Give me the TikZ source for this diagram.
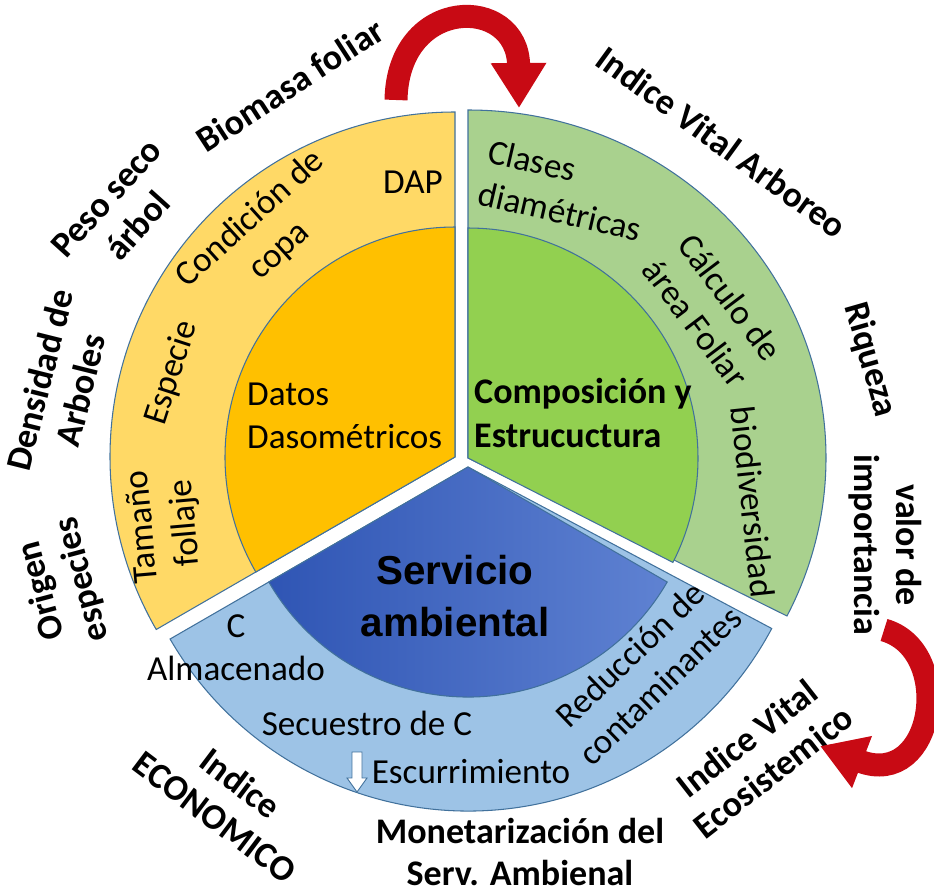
\documentclass[tikz,border=0pt]{standalone}
\usepackage{fontspec}
\setmainfont{Carlito}
\newfontfamily\servfont{Liberation Sans}
\usetikzlibrary{arrows.meta}
\definecolor{myyellow}{RGB}{255,217,102}
\definecolor{myorange}{RGB}{255,192,0}
\definecolor{mygreen}{RGB}{169,209,142}
\definecolor{mylime}{RGB}{146,208,80}
\definecolor{mysky}{RGB}{157,195,230}
\definecolor{myblue}{RGB}{47,85,180}
\definecolor{myblue2}{RGB}{95,130,210}
\definecolor{myedge}{RGB}{65,113,156}
\definecolor{myred}{RGB}{200,10,20}

\begin{document}
\begin{tikzpicture}[x=0.02cm, y=0.02cm,
    outlbl/.style={font=\bfseries\fontsize{20.5}{24}\selectfont, align=center},
    ringlbl/.style={font=\fontsize{20}{24.5}\selectfont, align=center},
    sector/.style={draw=myedge, line width=0.6pt},
    bigarrow/.style={myred, line width=0.46cm, -{Triangle[width=1.05cm, length=0.9cm]}}]

    \useasboundingbox (0,0) rectangle (934,-896);

    % Centres of the three sectors
    \coordinate (Y) at (455,-457);
    \coordinate (G) at (468,-458);
    \coordinate (B) at (468,-467);

    % Outer rings
    \fill[myyellow, sector] (Y) -- ++(90:345) arc[start angle=90, end angle=210, radius=345] -- cycle;
    \fill[mygreen, sector] (G) -- ++(0,348) arc[start angle=90, end angle=-27, x radius=358, y radius=348] -- cycle;
    \fill[mysky, sector] (B) -- ++(210:344) arc[start angle=210, end angle=332, radius=344] -- cycle;

    % Inner discs
    \fill[myorange, sector] (Y) -- ++(90:230) arc[start angle=90, end angle=210, radius=230] -- cycle;
    \fill[mylime, sector] (G) -- ++(90:230) arc[start angle=90, end angle=-27, radius=230] -- cycle;
    \shadedraw[left color=myblue, middle color=myblue, right color=myblue2, sector]
        (B) -- ++(210:230) arc[start angle=210, end angle=330, radius=230] -- cycle;

    % Inner labels
    \node[ringlbl, anchor=west, align=left] (dato) at (241,-416) {Datos\\Dasométricos};
    \node[ringlbl, font=\bfseries\fontsize{20.5}{24.5}\selectfont, anchor=west, align=left] (comp) at (468,-413) {Composición y\\Estrucuctura};
    \node[font=\servfont\bfseries\fontsize{23}{30}\selectfont, align=center] (serv) at (455,-596) {Servicio\\ambiental};

    % Ring labels, yellow
    \node[ringlbl] (dap) at (413,-182) {DAP};
    \node[ringlbl, rotate=42] (cond) at (265,-235) {Condición de\\copa};
    \node[ringlbl, rotate=72] (espc) at (172,-373) {Especie};
    \node[ringlbl, rotate=95] (tama) at (165,-525) {Tamaño\\follaje};

    % Ring labels, green
    \node[ringlbl, rotate=-13, align=left] (clas) at (565,-190) {Clases\\diamétricas};
    \node[ringlbl, rotate=-53] (calc) at (713,-310) {Cálculo de\\área Foliar};
    \node[ringlbl, rotate=-84] (biod) at (753,-502) {biodiversidad};

    % Ring labels, blue
    \node[ringlbl] (calm) at (236,-648) {C\\Almacenado};
    \node[ringlbl] (secu) at (367,-723) {Secuestro de C};
    \node[ringlbl] (escu) at (471,-772) {Escurrimiento};
    \node[ringlbl, rotate=44] (redu) at (645,-670) {Reducción de\\contaminantes};
    \draw[myedge, fill=white, line width=0.5pt] (352,-752) -- (362,-752) -- (362,-778) -- (367,-778)
        -- (357,-792) -- (347,-778) -- (352,-778) -- cycle;

    % Outer labels
    \node[outlbl, rotate=33] (bio) at (290,-85) {Biomasa foliar};
    \node[outlbl, rotate=48] (peso) at (122,-212) {Peso seco\\árbol};
    \node[outlbl, rotate=76] (dens) at (60,-385) {Densidad de\\Arboles};
    \node[outlbl, rotate=105] (orig) at (62,-585) {Origen\\especies};
    \node[outlbl, rotate=-37] (ieco) at (228,-800) {Indice\\ECONOMICO};
    \node[outlbl] (mone) at (520,-852) {Monetarización del\\Serv. Ambienal};
    \node[outlbl, rotate=38] (ivec) at (760,-755) {Indice Vital\\Ecosistemico};
    \node[outlbl, rotate=-90] (valr) at (885,-545) {valor de\\importancia};
    \node[outlbl, rotate=-74] (riqz) at (870,-360) {Riqueza};
    \node[outlbl, rotate=-36] (ivar) at (722,-142) {Indice Vital Arboreo};

    % Red arrows
    \coordinate (t1) at (396,-100);
    \coordinate (h1) at (519,-108);
    \draw[bigarrow] (t1) .. controls (398,5) and (518,5) .. (h1);

    \coordinate (t2) at (884,-630);
    \coordinate (h2) at (820,-746);
    \draw[bigarrow] (t2) .. controls (955,-650) and (935,-790) .. (h2);

\end{tikzpicture}
\end{document}
